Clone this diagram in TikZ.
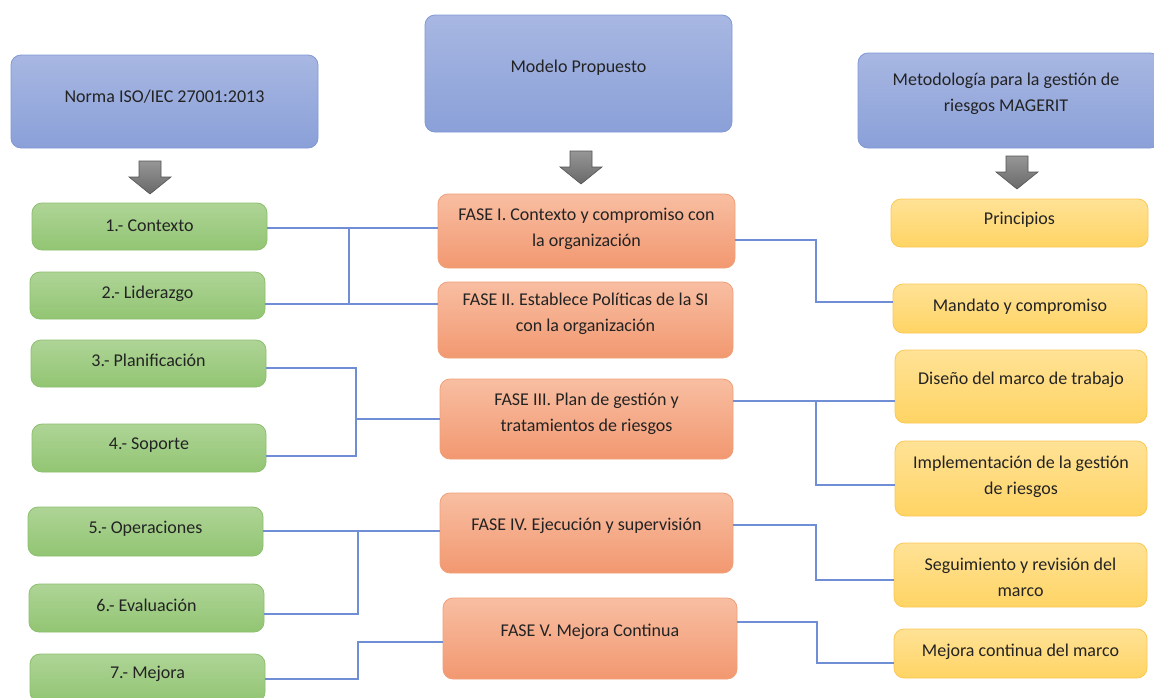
\documentclass[tikz,border=0pt]{standalone}
\usepackage{fontspec}
\setmainfont{Carlito}
\usetikzlibrary{calc}
\definecolor{bluetop}{RGB}{168,183,226}
\definecolor{bluebot}{RGB}{138,160,216}
\definecolor{blueedge}{RGB}{128,152,214}
\definecolor{greentop}{RGB}{174,212,150}
\definecolor{greenbot}{RGB}{146,197,115}
\definecolor{greenedge}{RGB}{140,192,110}
\definecolor{orangetop}{RGB}{248,190,162}
\definecolor{orangebot}{RGB}{242,152,112}
\definecolor{orangeedge}{RGB}{240,160,120}
\definecolor{yellowtop}{RGB}{255,226,150}
\definecolor{yellowbot}{RGB}{255,212,100}
\definecolor{yellowedge}{RGB}{250,200,85}
\definecolor{linec}{RGB}{112,142,214}
\definecolor{arrowtop}{RGB}{150,150,150}
\definecolor{arrowbot}{RGB}{105,105,105}
\definecolor{txtc}{RGB}{35,35,35}
\tikzset{
  box/.style={rounded corners=10pt, draw, line width=0.8pt, inner sep=0pt},
  bluebox/.style={box, draw=blueedge, top color=bluetop, bottom color=bluebot},
  greenbox/.style={box, draw=greenedge, top color=greentop, bottom color=greenbot},
  orangebox/.style={box, draw=orangeedge, top color=orangetop, bottom color=orangebot},
  yellowbox/.style={box, draw=yellowedge, top color=yellowtop, bottom color=yellowbot},
  txt/.style={text=txtc, align=center, font=\fontsize{18}{26}\selectfont, inner sep=0pt},
  conn/.style={draw=linec, line width=1.1pt},
  bigarrow/.style={draw=arrowbot!80!black, line width=0.6pt, top color=arrowtop, bottom color=arrowbot}
}
\newcommand{\mybox}[6]{% style, name, x1, y1, x2, y2
  \node[#1, minimum width={#5-#3}, minimum height={#6-#4}] (#2) at ({(#3+#5)/2},{(#4+#6)/2}) {};
}
\newcommand{\grayarrow}[4]{% cx, ytop, yhead, ybot
  \path[bigarrow] (#1-11,#2) -- (#1+11,#2) -- (#1+11,#3) -- (#1+21,#3) -- (#1,#4) -- (#1-21,#3) -- (#1-11,#3) -- cycle;
}
\begin{document}
\begin{tikzpicture}[x=1pt,y=-1pt]
\useasboundingbox (0,0) rectangle (1154,697);
\fill[white] (0,0) rectangle (1154,697);
% header boxes
\mybox{bluebox}{norma}{11}{55}{318}{148}
\mybox{bluebox}{modelo}{425}{15}{732}{132}
\mybox{bluebox}{magerit}{858}{53}{1160}{148}
\node[txt] (normat) at ($(norma.center)+(0,-5)$) {Norma ISO/IEC 27001:2013};
\node[txt] (modelot) at ($(modelo.center)+(0,-6)$) {Modelo Propuesto};
\node[txt] (mageritt) at ($(magerit.center)+(-3,-7)$) {Metodología para la gestión de\\riesgos MAGERIT};
% arrows
\grayarrow{150}{161}{177}{194}
\grayarrow{581}{151}{167}{184}
\grayarrow{1017}{156}{172}{189}
% green boxes
\mybox{greenbox}{g1}{32}{203}{267}{250}
\mybox{greenbox}{g2}{30}{272}{265}{319}
\mybox{greenbox}{g3}{31}{340}{266}{387}
\mybox{greenbox}{g4}{32}{424}{266}{472}
\mybox{greenbox}{g5}{28}{507}{263}{556}
\mybox{greenbox}{g6}{29}{584}{264}{632}
\mybox{greenbox}{g7}{30}{654}{265}{702}
\node[txt] (g1t) at ($(g1.center)+(0,-1)$) {1.- Contexto};
\node[txt] (g2t) at ($(g2.center)+(0,-2)$) {2.- Liderazgo};
\node[txt] (g3t) at ($(g3.center)+(0,-3)$) {3.- Planificación};
\node[txt] (g4t) at ($(g4.center)+(0,-3)$) {4.- Soporte};
\node[txt] (g5t) at ($(g5.center)+(0,-3)$) {5.- Operaciones};
\node[txt] (g6t) at ($(g6.center)+(0,-3)$) {6.- Evaluación};
\node[txt] (g7t) at ($(g7.center)+(0,-4)$) {7.- Mejora};
% orange boxes
\mybox{orangebox}{f1}{438}{194}{735}{268}
\mybox{orangebox}{f2}{438}{282}{733}{358}
\mybox{orangebox}{f3}{440}{379}{733}{459}
\mybox{orangebox}{f4}{440}{493}{733}{573}
\mybox{orangebox}{f5}{443}{598}{737}{679}
\node[txt] (f1t) at ($(f1.center)+(0,-2)$) {FASE I. Contexto y compromiso con\\la organización};
\node[txt] (f2t) at ($(f2.center)+(0,-6)$) {FASE II. Establece Políticas de la SI\\con la organización};
\node[txt] (f3t) at ($(f3.center)+(0,-5)$) {FASE III. Plan de gestión y\\tratamientos de riesgos};
\node[txt] (f4t) at ($(f4.center)+(0,-7)$) {FASE IV. Ejecución y supervisión};
\node[txt] (f5t) at ($(f5.center)+(0,-7)$) {FASE V. Mejora Continua};
% yellow boxes
\mybox{yellowbox}{y1}{891}{199}{1148}{247}
\mybox{yellowbox}{y2}{893}{284}{1147}{333}
\mybox{yellowbox}{y3}{895}{350}{1147}{423}
\mybox{yellowbox}{y4}{895}{441}{1147}{516}
\mybox{yellowbox}{y5}{894}{543}{1147}{607}
\mybox{yellowbox}{y6}{894}{629}{1147}{678}
\node[txt] (y1t) at ($(y1.center)+(0,-3)$) {Principios};
\node[txt] (y2t) at ($(y2.center)+(0,-2)$) {Mandato y compromiso};
\node[txt] (y3t) at ($(y3.center)+(0,-7)$) {Diseño del marco de trabajo};
\node[txt] (y4t) at ($(y4.center)+(0,-2)$) {Implementación de la gestión\\de riesgos};
\node[txt] (y5t) at ($(y5.center)+(0,2)$) {Seguimiento y revisión del\\marco};
\node[txt] (y6t) at ($(y6.center)+(0,-2)$) {Mejora continua del marco};
% junction coordinates
\coordinate (j1) at (349,228);
\coordinate (j2) at (356,419);
\coordinate (j3) at (358,531);
\coordinate (j4) at (358,642);
\coordinate (k1) at (816,240);
\coordinate (k2) at (816,401);
\coordinate (k3) at (816,525);
\coordinate (k4) at (817,622);
% left connectors
\draw[conn] (g1.east|-j1) -- (f1.west|-j1);
\draw[conn] (g2.east|-0,304) -| (j1);
\draw[conn] (g2.east|-0,304) -- (f2.west|-0,304);
\draw[conn] (g3.east|-0,368) -| (j2|-0,456) -- (g4.east|-0,456);
\draw[conn] (j2) -- (f3.west|-j2);
\draw[conn] (g5.east|-j3) -- (f4.west|-j3);
\draw[conn] (g6.east|-0,614) -| (j3);
\draw[conn] (g7.east|-0,679) -| (j4) -- (f5.west|-j4);
% right connectors
\draw[conn] (f1.east|-k1) -- (k1) |- (y2.west|-0,302);
\draw[conn] (f3.east|-k2) -- (y3.west|-k2);
\draw[conn] (k2) |- (y4.west|-0,485);
\draw[conn] (f4.east|-k3) -- (k3) |- (y5.west|-0,580);
\draw[conn] (f5.east|-k4) -- (k4) |- (y6.west|-0,663);
\end{tikzpicture}
\end{document}
